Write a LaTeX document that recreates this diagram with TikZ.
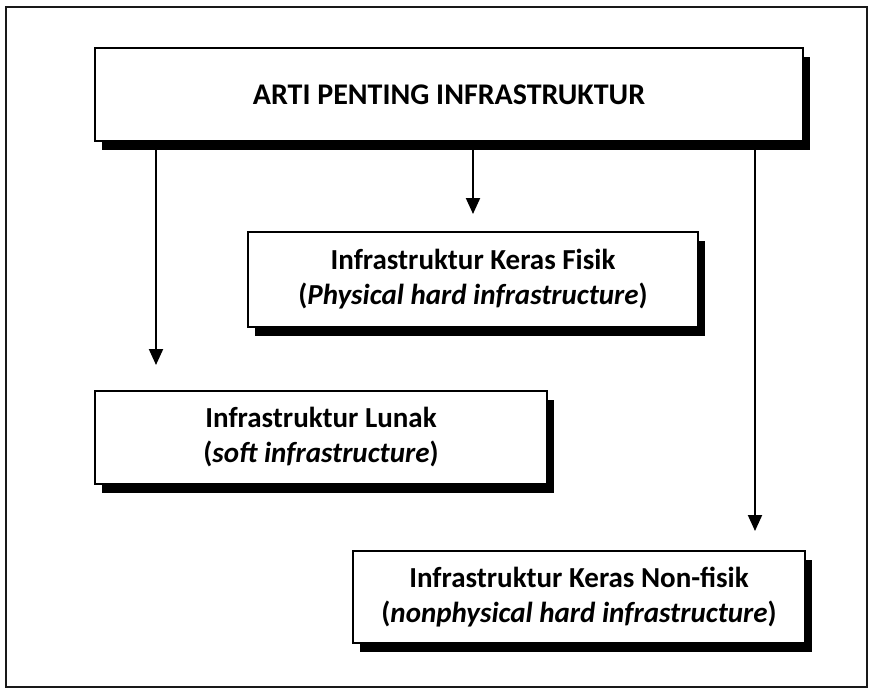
\documentclass[tikz,border=0pt]{standalone}
\usepackage{fontspec}
\setmainfont{Carlito}
\usetikzlibrary{arrows.meta,shadows}
\begin{document}
\begin{tikzpicture}[x=1pt,y=-1pt,
  box/.style={draw=black, line width=2pt, fill=white, align=center, inner sep=0pt,
    font=\bfseries\fontsize{29}{35}\selectfont,
    drop shadow={shadow xshift=7pt, shadow yshift=-8.5pt, fill=black, opacity=1}},
  link/.style={line width=2pt, -{Triangle[width=14pt,length=16pt]}}]
  \useasboundingbox (0,0) rectangle (874,694);
  % outer frame
  \draw[line width=2pt, draw=black!90] (6,7) rectangle (867,687);
  % boxes
  \node[box, minimum width=708pt, minimum height=93pt,
        font=\bfseries\fontsize{30}{36}\selectfont] (title) at (449,94.5)
    {ARTI PENTING INFRASTRUKTUR};
  \node[box, minimum width=450pt, minimum height=95pt] (fisik) at (473,279.5)
    {Infrastruktur Keras Fisik\\(\textit{Physical hard infrastructure})};
  \node[box, minimum width=452pt, minimum height=93pt] (lunak) at (321,437.5)
    {Infrastruktur Lunak\\(\textit{soft infrastructure})};
  \node[box, minimum width=452pt, minimum height=92pt] (nonfisik) at (579,597)
    {Infrastruktur Keras Non-fisik\\(\textit{nonphysical hard infrastructure})};
  % arrow tips
  \coordinate (tipL) at (156,365);
  \coordinate (tipM) at (473,214);
  \coordinate (tipR) at (755,531);
  \draw[link] (title.south -| tipL) -- (tipL);
  \draw[link] (title.south -| tipM) -- (tipM);
  \draw[link] (title.south -| tipR) -- (tipR);
\end{tikzpicture}
\end{document}
